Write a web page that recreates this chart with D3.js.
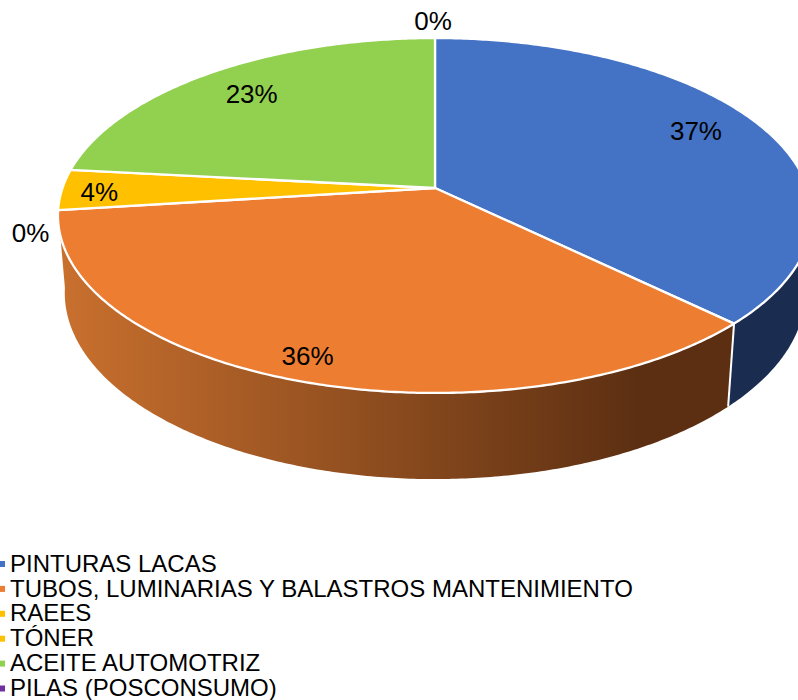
<!DOCTYPE html>
<html>
<head>
<meta charset="utf-8">
<script src="https://cdn.jsdelivr.net/npm/d3@7/dist/d3.min.js"></script>
<style>
  html, body { margin: 0; padding: 0; background: #fff; overflow: hidden; }
  text { font-family: "Liberation Sans", Arial, sans-serif; fill: #000; }
</style>
</head>
<body>
<div id="chart"></div>
<script>
// values
const categories = ["PINTURAS LACAS", "TUBOS, LUMINARIAS Y BALASTROS MANTENIMIENTO", "RAEES", "TÓNER", "ACEITE AUTOMOTRIZ", "PILAS (POSCONSUMO)"];
const values = [37.3, 35.7, 0, 3.7, 23.3, 0];
const pctLabels = ["37%", "36%", "0%", "4%", "23%", "0%"];
const sliceColors = ["#4472c4", "#ed7d31", "#ffc000", "#ffc000", "#92d050", "#7030a0"];

const width = 798, height = 700;

// perspective of the tilted disc
const cx = 435, cy = 188;
const radX = 372.5, radY = 173.2, tilt = 0.155;
const drop = 78, shrink = 0.018; // lower rim

// label placement: radius fraction, then nudge
const labelFrac = [0.8, 0.8, 1.1, 0.9, 0.8, 1.1];
const labelNudge = [[-1, -6], [-20, 19], [11, 20], [0, 2], [-1, 0], [-2, -5]];

function project(angle, frac, low) {
  const u = Math.sin(angle) * frac, v = Math.cos(angle) * frac;
  const w = 1 + tilt * v + (low ? shrink : 0);
  return [cx + radX * u / w, cy + (-radY * v + (low ? drop : 0)) / w];
}

function arcPoints(a0, a1, low) {
  const n = Math.max(2, Math.ceil((a1 - a0) / 0.01));
  return d3.range(n + 1).map(i => project(a0 + (a1 - a0) * i / n, 1, low));
}

const line = d3.line();

const svg = d3.select("#chart").append("svg")
  .attr("width", width)
  .attr("height", height)
  .style("display", "block");

const sideGrad = svg.append("defs").append("linearGradient")
  .attr("id", "sideGrad")
  .attr("gradientUnits", "userSpaceOnUse")
  .attr("x1", 60).attr("x2", 640).attr("y1", 0).attr("y2", 0);
sideGrad.append("stop").attr("offset", 0).attr("stop-color", "#c9702e");
sideGrad.append("stop").attr("offset", 1).attr("stop-color", "#5c2f12");

const pie = d3.pie().sort(null).value(d => d);
const slices = pie(values);

// side wall first, top disc covers the back part
const sideFill = ["#1a2c50", "url(#sideGrad)"];
svg.append("g").selectAll("path")
  .data(slices.slice(0, 2))
  .join("path")
  .attr("d", d => line(arcPoints(d.startAngle, d.endAngle, false)
      .concat(arcPoints(d.startAngle, d.endAngle, true).reverse())) + "Z")
  .attr("fill", (d, i) => sideFill[i]);

// white seam between the two visible walls
svg.append("path")
  .attr("d", line([project(slices[1].startAngle, 1, false), project(slices[1].startAngle, 1, true)]))
  .attr("stroke", "#fff")
  .attr("stroke-width", 2)
  .attr("fill", "none");

svg.append("g").selectAll("path")
  .data(slices.filter(d => d.value > 0))
  .join("path")
  .attr("d", d => line([[cx, cy]].concat(arcPoints(d.startAngle, d.endAngle, false))) + "Z")
  .attr("fill", d => sliceColors[d.index])
  .attr("stroke", "#fff")
  .attr("stroke-width", 2.3)
  .attr("stroke-linejoin", "round");

svg.append("g").selectAll("text")
  .data(slices)
  .join("text")
  .attr("x", (d, i) => project((d.startAngle + d.endAngle) / 2, labelFrac[i], false)[0] + labelNudge[i][0])
  .attr("y", (d, i) => project((d.startAngle + d.endAngle) / 2, labelFrac[i], false)[1] + labelNudge[i][1])
  .attr("dy", "0.36em")
  .attr("text-anchor", "middle")
  .style("font-size", "26px")
  .text((d, i) => pctLabels[i]);

// legend
const legendY = d3.scalePoint().domain(categories).range([563, 687.5]);
const legend = svg.append("g").selectAll("g")
  .data(categories)
  .join("g")
  .attr("transform", d => `translate(0,${legendY(d)})`);
legend.append("rect")
  .attr("x", 0).attr("y", -2)
  .attr("width", 5).attr("height", 6)
  .attr("fill", (d, i) => sliceColors[i]);
legend.append("text")
  .attr("x", 10)
  .attr("dy", "0.36em")
  .style("font-size", "24px")
  .text(d => d);
</script>
</body>
</html>
